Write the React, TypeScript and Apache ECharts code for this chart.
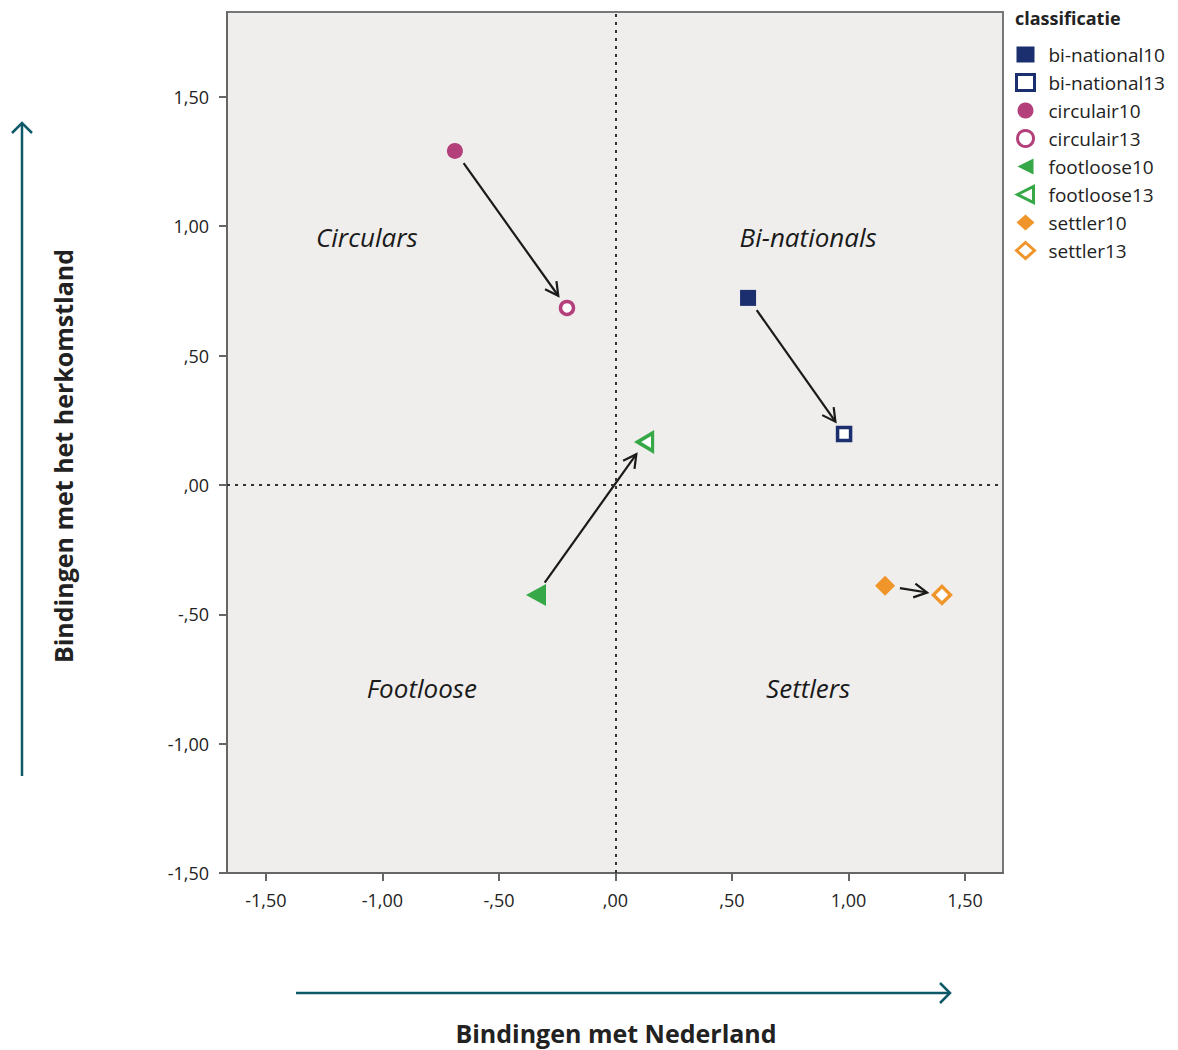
import React, { useEffect, useRef } from "react";
import * as echarts from "echarts";

const groups = ["bi-national", "circulair", "footloose", "settler"];
const colors = ["#1b2e6e", "#b33f7b", "#37a848", "#f0952a"];
const x10 = [0.569, -0.689, -0.341, 1.157];
const y10 = [0.723, 1.291, -0.425, -0.39];
const x13 = [0.981, -0.208, 0.127, 1.401];
const y13 = [0.197, 0.684, 0.166, -0.425];
const tickValues = [-1.5, -1, -0.5, 0, 0.5, 1, 1.5];
const quadrantNames = ["Circulars", "Bi-nationals", "Footloose", "Settlers"];
const quadrantX = [-1.067, 0.827, -0.831, 0.827];
const quadrantY = [0.959, 0.959, -0.785, -0.785];

const FONT = "'Open Sans', 'Noto Sans', sans-serif";
const TRI_LEFT = "path://M0,5L10,0L10,10Z";
const symbols = ["rect", "circle", TRI_LEFT, "diamond"];
const sizes10: any[] = [16, 16, [20, 22], [20, 20]];
const sizes13: any[] = [13, 13, [15, 18], [17, 17]];

const fmt = (v: number) => {
  let s = Math.abs(v).toFixed(2).replace(".", ",");
  if (s.startsWith("0")) s = s.slice(1);
  return (v < 0 ? "-" : "") + s;
};

export default function App() {
  const ref = useRef<HTMLDivElement>(null);
  useEffect(() => {
    if (!ref.current) return;
    const chart = echarts.init(ref.current, undefined, { renderer: "svg" });

    const pointSeries: any[] = [];
    const legendData: any[] = [];
    groups.forEach((g, i) => {
      legendData.push({ name: g + "10" });
      legendData.push({
        name: g + "13",
        itemStyle: { color: "#ffffff", borderColor: colors[i], borderWidth: 3 },
      });
      pointSeries.push({
        type: "scatter",
        name: g + "10",
        symbol: symbols[i],
        symbolSize: sizes10[i],
        itemStyle: { color: colors[i], opacity: 1 },
        data: [[x10[i], y10[i]]],
        z: 3,
      });
      pointSeries.push({
        type: "scatter",
        name: g + "13",
        symbol: symbols[i],
        symbolSize: sizes13[i],
        itemStyle: { color: "#ffffff", borderColor: colors[i], borderWidth: 3.5, opacity: 1 },
        data: [[x13[i], y13[i]]],
        z: 3,
      });
    });

    const gap = 15;
    const arrowSeries = {
      type: "custom",
      name: "arrows",
      silent: true,
      encode: { x: [0, 2], y: [1, 3] },
      data: groups.map((_, i) => [x10[i], y10[i], x13[i], y13[i]]),
      renderItem: (params: any, api: any) => {
        const a = api.coord([api.value(0), api.value(1)]);
        const b = api.coord([api.value(2), api.value(3)]);
        const dx = b[0] - a[0];
        const dy = b[1] - a[1];
        const L = Math.hypot(dx, dy);
        const ux = dx / L;
        const uy = dy / L;
        const s = [a[0] + ux * gap, a[1] + uy * gap];
        const e = [b[0] - ux * gap, b[1] - uy * gap];
        const h = 13;
        const w = 7;
        const bx = e[0] - ux * h;
        const by = e[1] - uy * h;
        const left = [bx - uy * w, by + ux * w];
        const right = [bx + uy * w, by - ux * w];
        return {
          type: "group",
          children: [
            {
              type: "line",
              shape: { x1: s[0], y1: s[1], x2: e[0], y2: e[1] },
              style: { stroke: "#1a1a1a", lineWidth: 2.2 },
            },
            {
              type: "polyline",
              shape: { points: [left, e, right] },
              style: { stroke: "#1a1a1a", lineWidth: 2.2, fill: null },
            },
          ],
        };
      },
      z: 2,
    };

    const quadrantSeries = {
      type: "scatter",
      name: "quadrants",
      silent: true,
      symbolSize: 1,
      itemStyle: { color: "rgba(0,0,0,0)", opacity: 1 },
      data: quadrantNames.map((n, i) => ({ name: n, value: [quadrantX[i], quadrantY[i]] })),
      label: {
        show: true,
        position: "inside",
        formatter: (p: any) => p.name,
        fontFamily: FONT,
        fontStyle: "italic",
        fontSize: 26,
        color: "#1a1a1a",
        opacity: 1,
      },
      markLine: {
        silent: true,
        symbol: "none",
        label: { show: false },
        lineStyle: { color: "#333", width: 2, type: [3, 5], opacity: 1 },
        data: [{ xAxis: 0 }, { yAxis: 0 }],
      },
      z: 1,
    };

    const axisCommon = {
      type: "value",
      splitLine: { show: false },
      axisLine: { show: true, onZero: false, lineStyle: { color: "#666", width: 2 } },
      axisTick: { show: true, length: 8, customValues: tickValues, lineStyle: { color: "#666", width: 2 } },
      axisLabel: {
        customValues: tickValues,
        formatter: fmt,
        fontFamily: FONT,
        fontSize: 18,
        color: "#222",
      },
    };

    chart.setOption({
      animation: false,
      backgroundColor: "#ffffff",
      textStyle: { fontFamily: FONT },
      grid: {
        left: 227,
        top: 12,
        right: 175,
        bottom: 177,
        show: true,
        backgroundColor: "#efeeec",
        borderColor: "#777",
        borderWidth: 2,
      },
      xAxis: {
        ...axisCommon,
        min: -1.667,
        max: 1.663,
        axisLabel: { ...axisCommon.axisLabel, margin: 18 },
      },
      yAxis: {
        ...axisCommon,
        min: -1.5,
        max: 1.828,
        axisLabel: { ...axisCommon.axisLabel, margin: 18 },
      },
      legend: {
        orient: "vertical",
        left: 1010,
        top: 40,
        itemWidth: 18,
        itemHeight: 16,
        itemGap: 9,
        data: legendData,
        textStyle: { fontFamily: FONT, fontSize: 19, color: "#222", padding: [0, 0, 0, 9] },
      },
      graphic: [
        {
          type: "text",
          left: 1015,
          top: 9,
          style: { text: "classificatie", font: `bold 18px ${FONT}`, fill: "#222" },
        },
        {
          type: "text",
          x: 616,
          y: 1033,
          style: {
            text: "Bindingen met Nederland",
            font: `bold 25px ${FONT}`,
            fill: "#222",
            textAlign: "center",
            textVerticalAlign: "middle",
          },
        },
        {
          type: "text",
          x: 63,
          y: 456,
          rotation: Math.PI / 2,
          style: {
            text: "Bindingen met het herkomstland",
            font: `bold 25px ${FONT}`,
            fill: "#222",
            textAlign: "center",
            textVerticalAlign: "middle",
          },
        },
        {
          type: "line",
          shape: { x1: 22, y1: 776, x2: 22, y2: 123 },
          style: { stroke: "#0e5968", lineWidth: 2.5 },
        },
        {
          type: "polyline",
          shape: { points: [[12, 133], [22, 123], [32, 133]] },
          style: { stroke: "#0e5968", lineWidth: 2.5, fill: null },
        },
        {
          type: "line",
          shape: { x1: 296, y1: 993, x2: 950, y2: 993 },
          style: { stroke: "#0e5968", lineWidth: 2.5 },
        },
        {
          type: "polyline",
          shape: { points: [[940, 983], [950, 993], [940, 1003]] },
          style: { stroke: "#0e5968", lineWidth: 2.5, fill: null },
        },
      ],
      series: [quadrantSeries, arrowSeries, ...pointSeries],
    });

    return () => chart.dispose();
  }, []);

  return (
    <div
      ref={ref}
      style={{ position: "absolute", left: 0, top: 0, width: 1178, height: 1050 }}
    />
  );
}
